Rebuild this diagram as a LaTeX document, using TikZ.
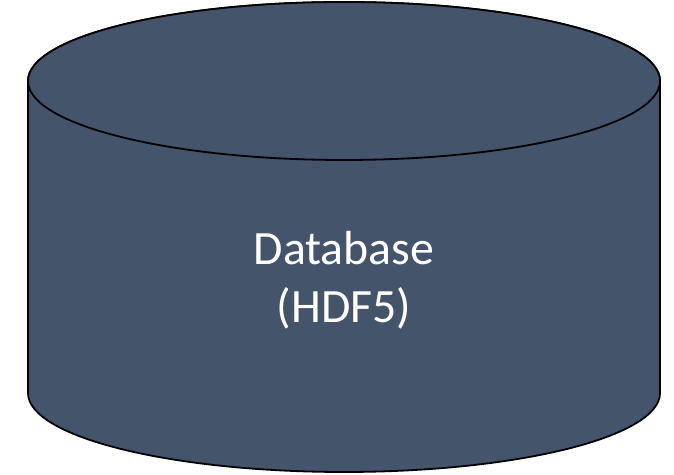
\documentclass[tikz,border=0pt]{standalone}
\usepackage{fontspec}
\setmainfont{Carlito}
\definecolor{cylfill}{HTML}{44546A}
\begin{document}
\begin{tikzpicture}[x=1bp,y=1bp,
  cyl/.style={fill=cylfill,draw=black,line width=1.8bp},
  lbl/.style={text=white,align=center,font=\fontsize{48}{58}\selectfont}]
\useasboundingbox (0,0) rectangle (674,475);
\path[cyl] (28,394) -- (28,82) arc[start angle=180,end angle=360,x radius=316,y radius=79] -- (660,394) arc[start angle=0,end angle=180,x radius=316,y radius=79] -- cycle;
\draw[cyl] (344,394) ellipse[x radius=316,y radius=79];
\node[lbl] (db) at (344,195) {Database\\(HDF5)};
\end{tikzpicture}
\end{document}
